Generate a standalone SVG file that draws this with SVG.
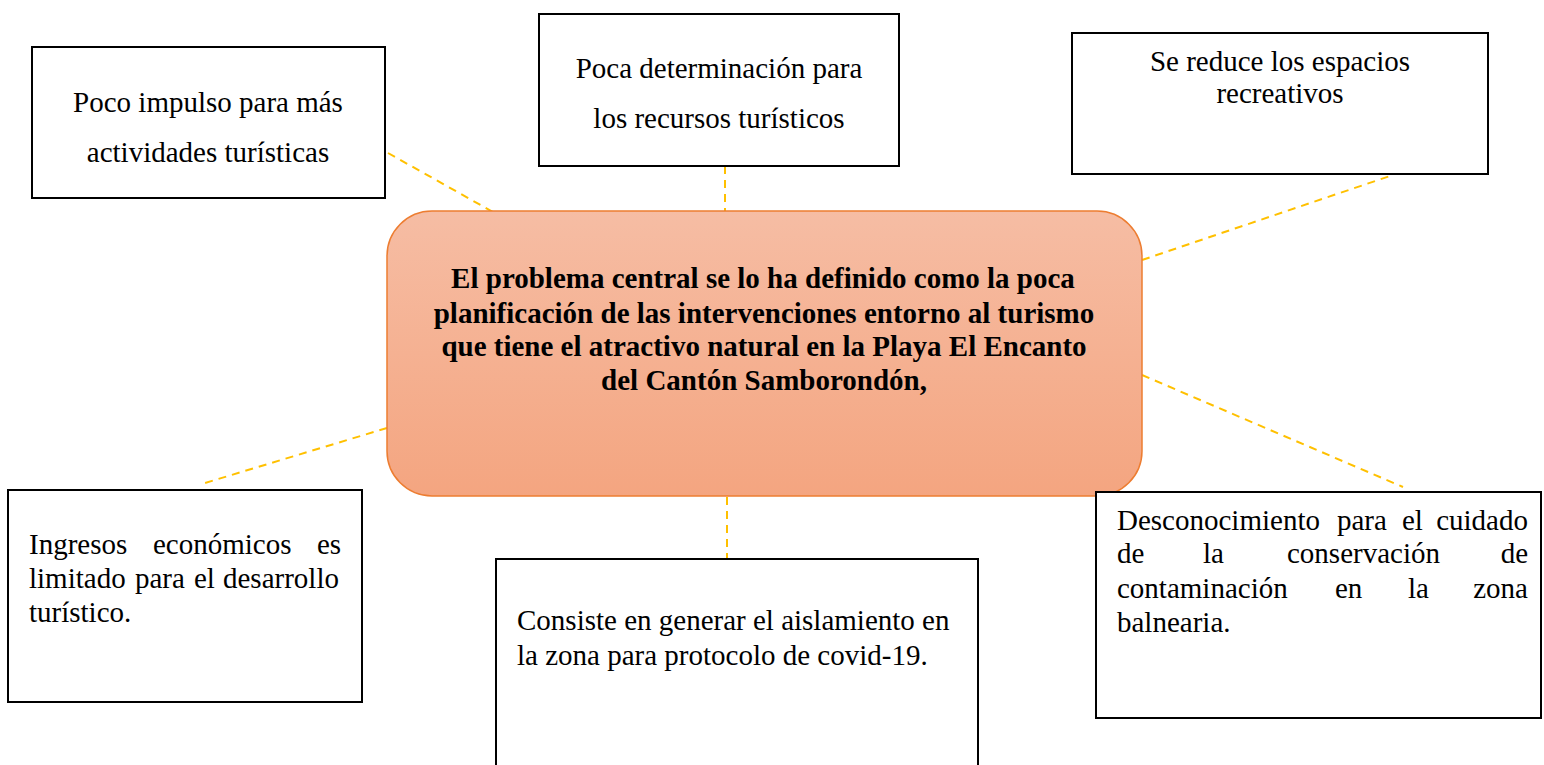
<svg xmlns="http://www.w3.org/2000/svg" width="1544" height="765" viewBox="0 0 1544 765">
<defs>
<linearGradient id="g" x1="0" y1="0" x2="0" y2="1">
<stop offset="0" stop-color="#f6bda4"/>
<stop offset="1" stop-color="#f4a580"/>
</linearGradient>
<style>
.box{fill:#fff;stroke:#000;stroke-width:2}
.t{font-family:"Liberation Serif","Times New Roman",serif;font-size:29px;fill:#000}
.c{text-anchor:middle}
.e{text-anchor:end}
.b{font-weight:bold}
.con{stroke:#ffc000;stroke-width:2;stroke-dasharray:8 6;fill:none}
</style>
</defs>
<rect width="1544" height="765" fill="#fff"/>
<g id="connectors">
<line class="con" x1="388" y1="153" x2="493" y2="212"/>
<line class="con" x1="725" y1="166" x2="725" y2="211"/>
<line class="con" x1="1142" y1="260" x2="1393" y2="175"/>
<line class="con" x1="1142" y1="375" x2="1403" y2="487"/>
<line class="con" x1="387" y1="428" x2="205" y2="483"/>
<line class="con" x1="727" y1="497" x2="727" y2="563"/>
</g>
<g id="center">
<rect x="387" y="211" width="755" height="285" rx="45" ry="45" fill="url(#g)" stroke="#ed7d31" stroke-width="1.5"/>
<text class="t c b" x="763" y="288">El problema central se lo ha definido como la poca</text>
<text class="t c b" x="764" y="323">planificación de las intervenciones entorno al turismo</text>
<text class="t c b" x="764" y="356">que tiene el atractivo natural en la Playa El Encanto</text>
<text class="t c b" x="764" y="390">del Cantón Samborondón,</text>
</g>
<g id="n1">
<rect class="box" x="32" y="47" width="353" height="151"/>
<text class="t c" x="208" y="112">Poco impulso para más</text>
<text class="t c" x="208" y="162">actividades turísticas</text>
</g>
<g id="n2">
<rect class="box" x="539" y="14" width="360" height="152"/>
<text class="t c" x="719" y="78">Poca determinación para</text>
<text class="t c" x="719" y="128">los recursos turísticos</text>
</g>
<g id="n3">
<rect class="box" x="1072" y="33" width="416" height="141"/>
<text class="t c" x="1280" y="71">Se reduce los espacios</text>
<text class="t c" x="1280" y="103">recreativos</text>
</g>
<g id="n4">
<rect class="box" x="8" y="490" width="354" height="212"/>
<text class="t" y="554"><tspan x="29">Ingresos</tspan><tspan x="153">económicos</tspan><tspan x="317">es</tspan></text>
<text class="t" y="588"><tspan x="29">limitado</tspan><tspan x="135">para</tspan><tspan x="194">el</tspan><tspan x="223">desarrollo</tspan></text>
<text class="t" x="29" y="622">turístico.</text>
</g>
<g id="n5">
<rect class="box" x="496" y="559" width="482" height="220"/>
<text class="t" x="517" y="630">Consiste en generar el aislamiento en</text>
<text class="t" x="517" y="665">la zona para protocolo de covid-19.</text>
</g>
<g id="n6">
<rect class="box" x="1096" y="492" width="445" height="226"/>
<text class="t" y="530"><tspan x="1117">Desconocimiento</tspan><tspan x="1337">para</tspan><tspan x="1402">el</tspan></text>
<text class="t e" x="1528" y="530">cuidado</text>
<text class="t" y="563"><tspan x="1117">de</tspan><tspan x="1203">la</tspan><tspan x="1287">conservación</tspan></text>
<text class="t e" x="1528" y="563">de</text>
<text class="t" y="598"><tspan x="1117">contaminación</tspan><tspan x="1335">en</tspan><tspan x="1408">la</tspan></text>
<text class="t e" x="1528" y="598">zona</text>
<text class="t" x="1117" y="632">balnearia.</text>
</g>
</svg>
